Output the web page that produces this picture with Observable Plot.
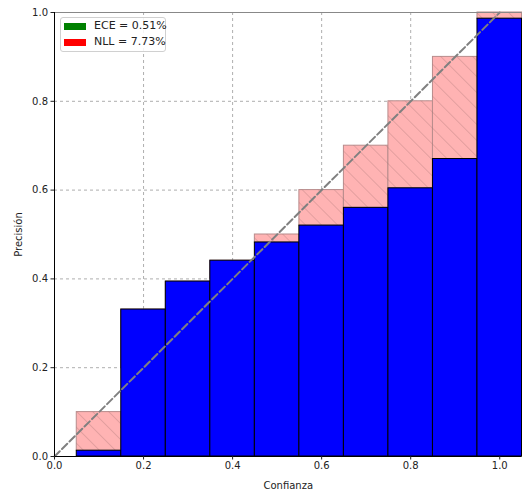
<!DOCTYPE html>
<html>
<head>
<meta charset="utf-8">
<script src="https://cdn.jsdelivr.net/npm/d3@7"></script>
<script src="https://cdn.jsdelivr.net/npm/@observablehq/plot@0.6"></script>
<style>
  body { margin: 0; background: #fff; font-family: "DejaVu Sans", sans-serif; }
  #wrap { position: relative; width: 528px; height: 493px; }
  #legend { position: absolute; left: 60px; top: 17px; width: 104px; height: 33px;
    border: 1px solid #d0d0d0; border-radius: 3px; background: rgba(255,255,255,0.85);
    font-size: 11px; color: #222; }
  .row { position: absolute; left: 3px; display: flex; align-items: center; white-space: nowrap; line-height: 14px; }
  .sw { width: 22px; height: 7px; margin-right: 8px; flex: none; }
</style>
</head>
<body>
<div id="wrap"></div>
<script>
const confidence = [0.1, 0.2, 0.3, 0.4, 0.5, 0.6, 0.7, 0.8, 0.9, 1.0];
const accuracy   = [0.013, 0.331, 0.394, 0.441, 0.482, 0.520, 0.560, 0.604, 0.670, 0.986];
const xTicks = [0, 0.2, 0.4, 0.6, 0.8, 1.0];
const yTicks = [0, 0.2, 0.4, 0.6, 0.8, 1.0];
const legendItems = [
  {label: "ECE = 0.51%", color: "green"},
  {label: "NLL = 7.73%", color: "red"}
];

const half = 0.05;
const data = confidence.map((c, i) => ({c, acc: accuracy[i], x1: c - half, x2: c + half}));

const defs = () => {
  const ns = "http://www.w3.org/2000/svg";
  const d = document.createElementNS(ns, "defs");
  d.innerHTML = `<pattern id="hatch" patternUnits="userSpaceOnUse" width="11.3" height="11.3" patternTransform="rotate(-45)">
      <line x1="0" y1="0" x2="0" y2="11.3" stroke="#9a6a6a" stroke-opacity="0.55" stroke-width="1"/>
    </pattern>`;
  return d;
};

const chart = Plot.plot({
  width: 528, height: 493,
  marginLeft: 54, marginRight: 6.5, marginTop: 12, marginBottom: 37,
  style: {fontFamily: "DejaVu Sans, sans-serif", fontSize: "10px", color: "#222", background: "white"},
  x: {domain: [0, 1.05]},
  y: {domain: [0, 1]},
  marks: [
    defs,
    Plot.ruleX(xTicks, {stroke: "#999", strokeDasharray: "3,3", strokeWidth: 0.8}),
    Plot.ruleY(yTicks, {stroke: "#999", strokeDasharray: "3,3", strokeWidth: 0.8}),
    Plot.rect(data, {x1: "x1", x2: "x2", y1: "acc", y2: "c", fill: "#ffb3b3", stroke: "#b88c8c", strokeWidth: 1}),
    Plot.rect(data, {x1: "x1", x2: "x2", y1: "acc", y2: "c", fill: "url(#hatch)"}),
    Plot.rect(data, {x1: "x1", x2: "x2", y1: 0, y2: "acc", fill: "blue", stroke: "black", strokeWidth: 1}),
    Plot.line([0, 1], {x: d => d, y: d => d, stroke: "#808080", strokeWidth: 2, strokeDasharray: "7.4,3.2"}),
    Plot.ruleY([1], {stroke: "#888", strokeWidth: 1}),
    Plot.ruleX([0], {stroke: "black", strokeWidth: 1}),
    Plot.ruleY([0], {stroke: "black", strokeWidth: 1}),
    Plot.axisX({ticks: xTicks, tickFormat: d3.format(".1f"), tickSize: 3.5, tickPadding: 2,
      label: "Confianza", labelAnchor: "center", labelArrow: "none", labelOffset: 32, fontSize: 10}),
    Plot.axisY({ticks: yTicks, tickFormat: d3.format(".1f"), tickSize: 3.5, tickPadding: 3,
      label: "Precisión", labelAnchor: "center", labelArrow: "none", labelOffset: 40, fontSize: 10})
  ]
});
const wrap = document.getElementById("wrap");
wrap.appendChild(chart);

const legend = document.createElement("div");
legend.id = "legend";
legendItems.forEach((it, i) => {
  const row = document.createElement("div");
  row.className = "row";
  row.style.top = (i === 0 ? 1 : 17) + "px";
  const sw = document.createElement("div");
  sw.className = "sw";
  sw.style.background = it.color;
  const t = document.createElement("span");
  t.textContent = it.label;
  row.appendChild(sw); row.appendChild(t);
  legend.appendChild(row);
});
wrap.appendChild(legend);
</script>
</body>
</html>
